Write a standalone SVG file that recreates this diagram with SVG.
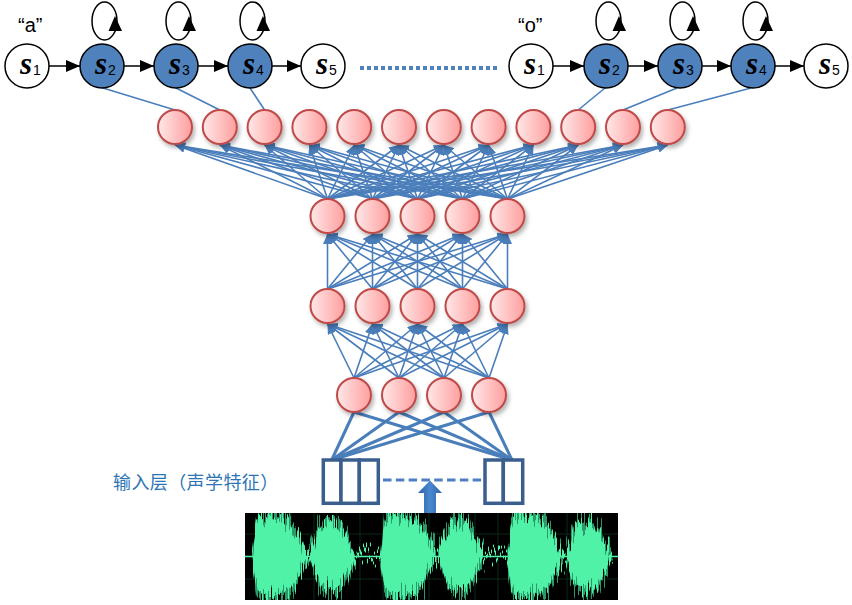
<svg xmlns="http://www.w3.org/2000/svg" xmlns:xlink="http://www.w3.org/1999/xlink" width="852" height="605" viewBox="0 0 852 605">
<style>
.e{stroke:#4A7EBB;stroke-width:1.6;marker-end:url(#ab)}
.h{stroke:#4A7EBB;stroke-width:1.6;fill:none}
.in{stroke:#4A7EBB;stroke-width:3;fill:none}
.st{stroke:#000;stroke-width:1.5;marker-end:url(#ah)}
.lp{fill:none;stroke:#000;stroke-width:1.5}
.tri{fill:#000}
.hw{fill:#fff;stroke:#000;stroke-width:1.5}
.hb{fill:#4F81BD;stroke:#000;stroke-width:1.5}
.s{font-family:"Liberation Serif",serif;font-weight:bold;font-style:italic;font-size:31px;fill:#000}
.sub{font-family:"Liberation Sans",Arial,sans-serif;font-size:14px;fill:#000}
.lbl{font-family:"Liberation Sans",Arial,sans-serif;font-size:20px;fill:#000}
.nr{fill:url(#ng);stroke:#BE4B48;stroke-width:2;filter:url(#sh)}
.box{fill:#fff;stroke:#3A5F8F;stroke-width:3.5}
.cn{font-family:"Noto Sans CJK SC",sans-serif;font-size:18px;letter-spacing:0.4px;fill:#2E75B6}
</style>
<defs>
<marker id="ab" markerUnits="userSpaceOnUse" markerWidth="10" markerHeight="9" refX="10" refY="4.5" orient="auto"><path d="M0,0 L10,4.5 L0,9 z" fill="#4A7EBB"/></marker>
<marker id="ah" markerUnits="userSpaceOnUse" markerWidth="14" markerHeight="12" refX="14" refY="6" orient="auto"><path d="M0,0 L14,6 L0,12 z" fill="#000"/></marker>
<linearGradient id="ng" x1="0" y1="0" x2="1" y2="0"><stop offset="0" stop-color="#FFE8E8"/><stop offset="1" stop-color="#FF9E9E"/></linearGradient>
<linearGradient id="ag" x1="0" y1="0" x2="1" y2="0"><stop offset="0" stop-color="#2D63A8"/><stop offset="0.5" stop-color="#4A88CF"/><stop offset="1" stop-color="#2D63A8"/></linearGradient>
<filter id="sh" x="-40%" y="-40%" width="190%" height="190%"><feDropShadow dx="2" dy="3" stdDeviation="2" flood-color="#000" flood-opacity="0.3"/></filter>
<filter id="jagA" filterUnits="userSpaceOnUse" x="240" y="495" width="385" height="115" color-interpolation-filters="sRGB">
<feTurbulence type="fractalNoise" baseFrequency="0.7 0.012" numOctaves="2" seed="7" result="t"/>
<feColorMatrix in="t" type="matrix" values="0 0 0 0 0.5  0 1.8 0 0 -0.4  0 0 0 0 0  0 0 0 0 1" result="d"/>
<feDisplacementMap in="SourceGraphic" in2="d" scale="34" xChannelSelector="R" yChannelSelector="G"/>
</filter>
<filter id="jagB" filterUnits="userSpaceOnUse" x="240" y="495" width="385" height="115" color-interpolation-filters="sRGB">
<feTurbulence type="fractalNoise" baseFrequency="0.8 0.012" numOctaves="2" seed="2" result="t"/>
<feColorMatrix in="t" type="matrix" values="0 0 0 0 0.5  0 1.8 0 0 -0.4  0 0 0 0 0  0 0 0 0 1" result="d"/>
<feDisplacementMap in="SourceGraphic" in2="d" scale="24" xChannelSelector="R" yChannelSelector="G"/>
</filter>
<clipPath id="wc"><rect x="245" y="513" width="373" height="87"/></clipPath>
<path id="b1" d="M252,556.5 L254,540 L256,524 L259,516 L264,513 L272,514 L280,516 L288,519 L294,527 L300,538 L306,550 L311,556.5 L306,563 L300,574 L294,586 L288,592 L280,595 L272,597 L264,597 L259,594 L256,586 L254,572 Z"/>
<path id="b2" d="M309,556.5 L312,548 L316,536 L321,526 L328,522 L336,523 L342,527 L347,537 L352,547 L357,556.5 L352,566 L347,576 L342,586 L336,590 L328,590 L321,586 L316,577 L312,566 Z"/>
<path id="q" d="M356,554.5 L381,554.5 L381,558.5 L356,558.5 Z"/>
</defs>
<rect width="852" height="605" fill="#fff"/>
<g id="connectors">
<g id="hmm-edges">
<line class="st" x1="49" y1="66" x2="80" y2="66"/>
<line class="st" x1="124" y1="66" x2="154" y2="66"/>
<line class="st" x1="198" y1="66" x2="228" y2="66"/>
<line class="st" x1="272" y1="66" x2="301" y2="66"/>
<line class="st" x1="553" y1="66" x2="584" y2="66"/>
<line class="st" x1="628" y1="66" x2="658" y2="66"/>
<line class="st" x1="702" y1="66" x2="731" y2="66"/>
<line class="st" x1="775" y1="66" x2="804" y2="66"/>
<ellipse class="lp" cx="104.5" cy="21" rx="12.5" ry="19"/>
<path class="tri" d="M115,16 L108.5,31 L122,31 Z"/>
<ellipse class="lp" cx="178.5" cy="21" rx="12.5" ry="19"/>
<path class="tri" d="M189,16 L182.5,31 L196,31 Z"/>
<ellipse class="lp" cx="252.5" cy="21" rx="12.5" ry="19"/>
<path class="tri" d="M263,16 L256.5,31 L270,31 Z"/>
<ellipse class="lp" cx="608.5" cy="21" rx="12.5" ry="19"/>
<path class="tri" d="M619,16 L612.5,31 L626,31 Z"/>
<ellipse class="lp" cx="682.5" cy="21" rx="12.5" ry="19"/>
<path class="tri" d="M693,16 L686.5,31 L700,31 Z"/>
<ellipse class="lp" cx="755.5" cy="21" rx="12.5" ry="19"/>
<path class="tri" d="M766,16 L759.5,31 L773,31 Z"/>
<line x1="360" y1="68" x2="500" y2="68" stroke="#4F81BD" stroke-width="4" stroke-dasharray="4 3"/>
</g>
<g id="hmm-to-output">
<line class="h" x1="103" y1="88" x2="175" y2="110"/>
<line class="h" x1="176" y1="88" x2="219.8" y2="110"/>
<line class="h" x1="250" y1="88" x2="264.6" y2="110"/>
<line class="h" x1="605" y1="88" x2="578.2" y2="110"/>
<line class="h" x1="677" y1="88" x2="623" y2="110"/>
<line class="h" x1="751" y1="88" x2="667.8" y2="110"/>
</g>
<g id="l2-l1">
<line class="e" x1="327.5" y1="199" x2="175" y2="145"/><line class="e" x1="327.5" y1="199" x2="219.8" y2="145"/><line class="e" x1="327.5" y1="199" x2="264.6" y2="145"/><line class="e" x1="327.5" y1="199" x2="309.4" y2="145"/><line class="e" x1="327.5" y1="199" x2="354.2" y2="145"/><line class="e" x1="327.5" y1="199" x2="399" y2="145"/><line class="e" x1="327.5" y1="199" x2="443.8" y2="145"/><line class="e" x1="327.5" y1="199" x2="488.6" y2="145"/><line class="e" x1="327.5" y1="199" x2="533.4" y2="145"/><line class="e" x1="327.5" y1="199" x2="578.2" y2="145"/><line class="e" x1="327.5" y1="199" x2="623" y2="145"/><line class="e" x1="327.5" y1="199" x2="667.8" y2="145"/>
<line class="e" x1="372.5" y1="199" x2="175" y2="145"/><line class="e" x1="372.5" y1="199" x2="219.8" y2="145"/><line class="e" x1="372.5" y1="199" x2="264.6" y2="145"/><line class="e" x1="372.5" y1="199" x2="309.4" y2="145"/><line class="e" x1="372.5" y1="199" x2="354.2" y2="145"/><line class="e" x1="372.5" y1="199" x2="399" y2="145"/><line class="e" x1="372.5" y1="199" x2="443.8" y2="145"/><line class="e" x1="372.5" y1="199" x2="488.6" y2="145"/><line class="e" x1="372.5" y1="199" x2="533.4" y2="145"/><line class="e" x1="372.5" y1="199" x2="578.2" y2="145"/><line class="e" x1="372.5" y1="199" x2="623" y2="145"/><line class="e" x1="372.5" y1="199" x2="667.8" y2="145"/>
<line class="e" x1="417.5" y1="199" x2="175" y2="145"/><line class="e" x1="417.5" y1="199" x2="219.8" y2="145"/><line class="e" x1="417.5" y1="199" x2="264.6" y2="145"/><line class="e" x1="417.5" y1="199" x2="309.4" y2="145"/><line class="e" x1="417.5" y1="199" x2="354.2" y2="145"/><line class="e" x1="417.5" y1="199" x2="399" y2="145"/><line class="e" x1="417.5" y1="199" x2="443.8" y2="145"/><line class="e" x1="417.5" y1="199" x2="488.6" y2="145"/><line class="e" x1="417.5" y1="199" x2="533.4" y2="145"/><line class="e" x1="417.5" y1="199" x2="578.2" y2="145"/><line class="e" x1="417.5" y1="199" x2="623" y2="145"/><line class="e" x1="417.5" y1="199" x2="667.8" y2="145"/>
<line class="e" x1="462.5" y1="199" x2="175" y2="145"/><line class="e" x1="462.5" y1="199" x2="219.8" y2="145"/><line class="e" x1="462.5" y1="199" x2="264.6" y2="145"/><line class="e" x1="462.5" y1="199" x2="309.4" y2="145"/><line class="e" x1="462.5" y1="199" x2="354.2" y2="145"/><line class="e" x1="462.5" y1="199" x2="399" y2="145"/><line class="e" x1="462.5" y1="199" x2="443.8" y2="145"/><line class="e" x1="462.5" y1="199" x2="488.6" y2="145"/><line class="e" x1="462.5" y1="199" x2="533.4" y2="145"/><line class="e" x1="462.5" y1="199" x2="578.2" y2="145"/><line class="e" x1="462.5" y1="199" x2="623" y2="145"/><line class="e" x1="462.5" y1="199" x2="667.8" y2="145"/>
<line class="e" x1="507.5" y1="199" x2="175" y2="145"/><line class="e" x1="507.5" y1="199" x2="219.8" y2="145"/><line class="e" x1="507.5" y1="199" x2="264.6" y2="145"/><line class="e" x1="507.5" y1="199" x2="309.4" y2="145"/><line class="e" x1="507.5" y1="199" x2="354.2" y2="145"/><line class="e" x1="507.5" y1="199" x2="399" y2="145"/><line class="e" x1="507.5" y1="199" x2="443.8" y2="145"/><line class="e" x1="507.5" y1="199" x2="488.6" y2="145"/><line class="e" x1="507.5" y1="199" x2="533.4" y2="145"/><line class="e" x1="507.5" y1="199" x2="578.2" y2="145"/><line class="e" x1="507.5" y1="199" x2="623" y2="145"/><line class="e" x1="507.5" y1="199" x2="667.8" y2="145"/>
</g>
<g id="l3-l2">
<line class="e" x1="327.5" y1="289" x2="327.5" y2="234"/><line class="e" x1="327.5" y1="289" x2="372.5" y2="234"/><line class="e" x1="327.5" y1="289" x2="417.5" y2="234"/><line class="e" x1="327.5" y1="289" x2="462.5" y2="234"/><line class="e" x1="327.5" y1="289" x2="507.5" y2="234"/>
<line class="e" x1="372.5" y1="289" x2="327.5" y2="234"/><line class="e" x1="372.5" y1="289" x2="372.5" y2="234"/><line class="e" x1="372.5" y1="289" x2="417.5" y2="234"/><line class="e" x1="372.5" y1="289" x2="462.5" y2="234"/><line class="e" x1="372.5" y1="289" x2="507.5" y2="234"/>
<line class="e" x1="417.5" y1="289" x2="327.5" y2="234"/><line class="e" x1="417.5" y1="289" x2="372.5" y2="234"/><line class="e" x1="417.5" y1="289" x2="417.5" y2="234"/><line class="e" x1="417.5" y1="289" x2="462.5" y2="234"/><line class="e" x1="417.5" y1="289" x2="507.5" y2="234"/>
<line class="e" x1="462.5" y1="289" x2="327.5" y2="234"/><line class="e" x1="462.5" y1="289" x2="372.5" y2="234"/><line class="e" x1="462.5" y1="289" x2="417.5" y2="234"/><line class="e" x1="462.5" y1="289" x2="462.5" y2="234"/><line class="e" x1="462.5" y1="289" x2="507.5" y2="234"/>
<line class="e" x1="507.5" y1="289" x2="327.5" y2="234"/><line class="e" x1="507.5" y1="289" x2="372.5" y2="234"/><line class="e" x1="507.5" y1="289" x2="417.5" y2="234"/><line class="e" x1="507.5" y1="289" x2="462.5" y2="234"/><line class="e" x1="507.5" y1="289" x2="507.5" y2="234"/>
</g>
<g id="l4-l3">
<line class="e" x1="354" y1="378" x2="327.5" y2="324"/><line class="e" x1="354" y1="378" x2="372.5" y2="324"/><line class="e" x1="354" y1="378" x2="417.5" y2="324"/><line class="e" x1="354" y1="378" x2="462.5" y2="324"/><line class="e" x1="354" y1="378" x2="507.5" y2="324"/>
<line class="e" x1="399" y1="378" x2="327.5" y2="324"/><line class="e" x1="399" y1="378" x2="372.5" y2="324"/><line class="e" x1="399" y1="378" x2="417.5" y2="324"/><line class="e" x1="399" y1="378" x2="462.5" y2="324"/><line class="e" x1="399" y1="378" x2="507.5" y2="324"/>
<line class="e" x1="444" y1="378" x2="327.5" y2="324"/><line class="e" x1="444" y1="378" x2="372.5" y2="324"/><line class="e" x1="444" y1="378" x2="417.5" y2="324"/><line class="e" x1="444" y1="378" x2="462.5" y2="324"/><line class="e" x1="444" y1="378" x2="507.5" y2="324"/>
<line class="e" x1="489" y1="378" x2="327.5" y2="324"/><line class="e" x1="489" y1="378" x2="372.5" y2="324"/><line class="e" x1="489" y1="378" x2="417.5" y2="324"/><line class="e" x1="489" y1="378" x2="462.5" y2="324"/><line class="e" x1="489" y1="378" x2="507.5" y2="324"/>
</g>
<g id="input-l4">
<line class="in" x1="331.7" y1="460" x2="354" y2="412"/><line class="in" x1="331.7" y1="460" x2="399" y2="412"/><line class="in" x1="331.7" y1="460" x2="444" y2="412"/><line class="in" x1="331.7" y1="460" x2="489" y2="412"/>
<line class="in" x1="512" y1="460" x2="354" y2="412"/><line class="in" x1="512" y1="460" x2="399" y2="412"/><line class="in" x1="512" y1="460" x2="444" y2="412"/><line class="in" x1="512" y1="460" x2="489" y2="412"/>
</g>
</g>
<g id="hmm-a">
<g id="a-s1"><circle class="hw" cx="27" cy="66" r="22"/><text x="20" y="74"><tspan class="s">s</tspan><tspan class="sub" dx="1" dy="1">1</tspan></text></g>
<g id="a-s2"><circle class="hb" cx="102" cy="66" r="22"/><text x="95" y="74"><tspan class="s">s</tspan><tspan class="sub" dx="1" dy="1">2</tspan></text></g>
<g id="a-s3"><circle class="hb" cx="176" cy="66" r="22"/><text x="169" y="74"><tspan class="s">s</tspan><tspan class="sub" dx="1" dy="1">3</tspan></text></g>
<g id="a-s4"><circle class="hb" cx="250" cy="66" r="22"/><text x="243" y="74"><tspan class="s">s</tspan><tspan class="sub" dx="1" dy="1">4</tspan></text></g>
<g id="a-s5"><circle class="hw" cx="323" cy="66" r="22"/><text x="316" y="74"><tspan class="s">s</tspan><tspan class="sub" dx="1" dy="1">5</tspan></text></g>
<text class="lbl" x="18" y="32">“a”</text>
</g>
<g id="hmm-o">
<g id="o-s1"><circle class="hw" cx="531" cy="66" r="22"/><text x="524" y="74"><tspan class="s">s</tspan><tspan class="sub" dx="1" dy="1">1</tspan></text></g>
<g id="o-s2"><circle class="hb" cx="606" cy="66" r="22"/><text x="599" y="74"><tspan class="s">s</tspan><tspan class="sub" dx="1" dy="1">2</tspan></text></g>
<g id="o-s3"><circle class="hb" cx="680" cy="66" r="22"/><text x="673" y="74"><tspan class="s">s</tspan><tspan class="sub" dx="1" dy="1">3</tspan></text></g>
<g id="o-s4"><circle class="hb" cx="753" cy="66" r="22"/><text x="746" y="74"><tspan class="s">s</tspan><tspan class="sub" dx="1" dy="1">4</tspan></text></g>
<g id="o-s5"><circle class="hw" cx="826" cy="66" r="22"/><text x="819" y="74"><tspan class="s">s</tspan><tspan class="sub" dx="1" dy="1">5</tspan></text></g>
<text class="lbl" x="518" y="32">“o”</text>
</g>
<g id="layer1">
<circle id="n1-1" class="nr" cx="175" cy="127" r="17"/><circle id="n1-2" class="nr" cx="219.8" cy="127" r="17"/><circle id="n1-3" class="nr" cx="264.6" cy="127" r="17"/><circle id="n1-4" class="nr" cx="309.4" cy="127" r="17"/><circle id="n1-5" class="nr" cx="354.2" cy="127" r="17"/><circle id="n1-6" class="nr" cx="399" cy="127" r="17"/><circle id="n1-7" class="nr" cx="443.8" cy="127" r="17"/><circle id="n1-8" class="nr" cx="488.6" cy="127" r="17"/><circle id="n1-9" class="nr" cx="533.4" cy="127" r="17"/><circle id="n1-10" class="nr" cx="578.2" cy="127" r="17"/><circle id="n1-11" class="nr" cx="623" cy="127" r="17"/><circle id="n1-12" class="nr" cx="667.8" cy="127" r="17"/>
</g>
<g id="layer2">
<circle id="n2-1" class="nr" cx="327.5" cy="216" r="17"/><circle id="n2-2" class="nr" cx="372.5" cy="216" r="17"/><circle id="n2-3" class="nr" cx="417.5" cy="216" r="17"/><circle id="n2-4" class="nr" cx="462.5" cy="216" r="17"/><circle id="n2-5" class="nr" cx="507.5" cy="216" r="17"/>
</g>
<g id="layer3">
<circle id="n3-1" class="nr" cx="327.5" cy="306" r="17"/><circle id="n3-2" class="nr" cx="372.5" cy="306" r="17"/><circle id="n3-3" class="nr" cx="417.5" cy="306" r="17"/><circle id="n3-4" class="nr" cx="462.5" cy="306" r="17"/><circle id="n3-5" class="nr" cx="507.5" cy="306" r="17"/>
</g>
<g id="layer4">
<circle id="n4-1" class="nr" cx="354" cy="395" r="17"/><circle id="n4-2" class="nr" cx="399" cy="395" r="17"/><circle id="n4-3" class="nr" cx="444" cy="395" r="17"/><circle id="n4-4" class="nr" cx="489" cy="395" r="17"/>
</g>
<g id="input-layer">
<rect class="box" x="323.3" y="460" width="17.7" height="43.3"/>
<rect class="box" x="341" y="460" width="18.3" height="43.3"/>
<rect class="box" x="359.3" y="460" width="19" height="43.3"/>
<rect class="box" x="485" y="460" width="18.3" height="43.3"/>
<rect class="box" x="503.3" y="460" width="19.4" height="43.3"/>
<line x1="383" y1="480" x2="484" y2="480" stroke="#4F7FBF" stroke-width="3" stroke-dasharray="8.5 4.3"/>
<text class="cn" x="113" y="489">输入层（声学特征）</text>
</g>
<g id="up-arrow">
<path d="M424,513 L424,493 L418,493 L430,480.5 L442,493 L436,493 L436,513 Z" fill="url(#ag)"/>
</g>
<g id="waveform">
<rect x="245" y="513" width="373" height="87" fill="#000"/>
<g stroke="#0C2A17" stroke-width="1">
<line x1="268" y1="513" x2="268" y2="600"/><line x1="291" y1="513" x2="291" y2="600"/><line x1="314" y1="513" x2="314" y2="600"/><line x1="337" y1="513" x2="337" y2="600"/><line x1="360" y1="513" x2="360" y2="600"/><line x1="383" y1="513" x2="383" y2="600"/><line x1="406" y1="513" x2="406" y2="600"/><line x1="429" y1="513" x2="429" y2="600"/><line x1="452" y1="513" x2="452" y2="600"/><line x1="475" y1="513" x2="475" y2="600"/><line x1="498" y1="513" x2="498" y2="600"/><line x1="521" y1="513" x2="521" y2="600"/><line x1="544" y1="513" x2="544" y2="600"/><line x1="567" y1="513" x2="567" y2="600"/><line x1="590" y1="513" x2="590" y2="600"/>
<line x1="245" y1="534" x2="618" y2="534"/><line x1="245" y1="579" x2="618" y2="579"/>
</g>
<g clip-path="url(#wc)">
<g filter="url(#jagA)" fill="#2C9A68">
<g transform="translate(0,556.5) scale(1,1.08) translate(0,-556.5)">
<use xlink:href="#b1"/><use xlink:href="#b2"/>
<use xlink:href="#b1" transform="translate(128,0)"/><use xlink:href="#b2" transform="translate(128,0)"/>
<use xlink:href="#b1" transform="translate(255,0)"/><use xlink:href="#b2" transform="translate(256,0)"/>
</g>
</g>
<g filter="url(#jagB)" fill="#4FF2A6">
<g transform="translate(0,556.5) scale(1,0.95) translate(0,-556.5)">
<use xlink:href="#b1"/><use xlink:href="#b2"/>
<use xlink:href="#b1" transform="translate(128,0)"/><use xlink:href="#b2" transform="translate(128,0)"/>
<use xlink:href="#b1" transform="translate(255,0)"/><use xlink:href="#b2" transform="translate(256,0)"/>
<use xlink:href="#q"/><use xlink:href="#q" transform="translate(127,0)"/>
</g>
</g>
<line x1="245" y1="556.5" x2="618" y2="556.5" stroke="#4FF2A6" stroke-width="1.5"/>
</g>
</g>
</svg>
